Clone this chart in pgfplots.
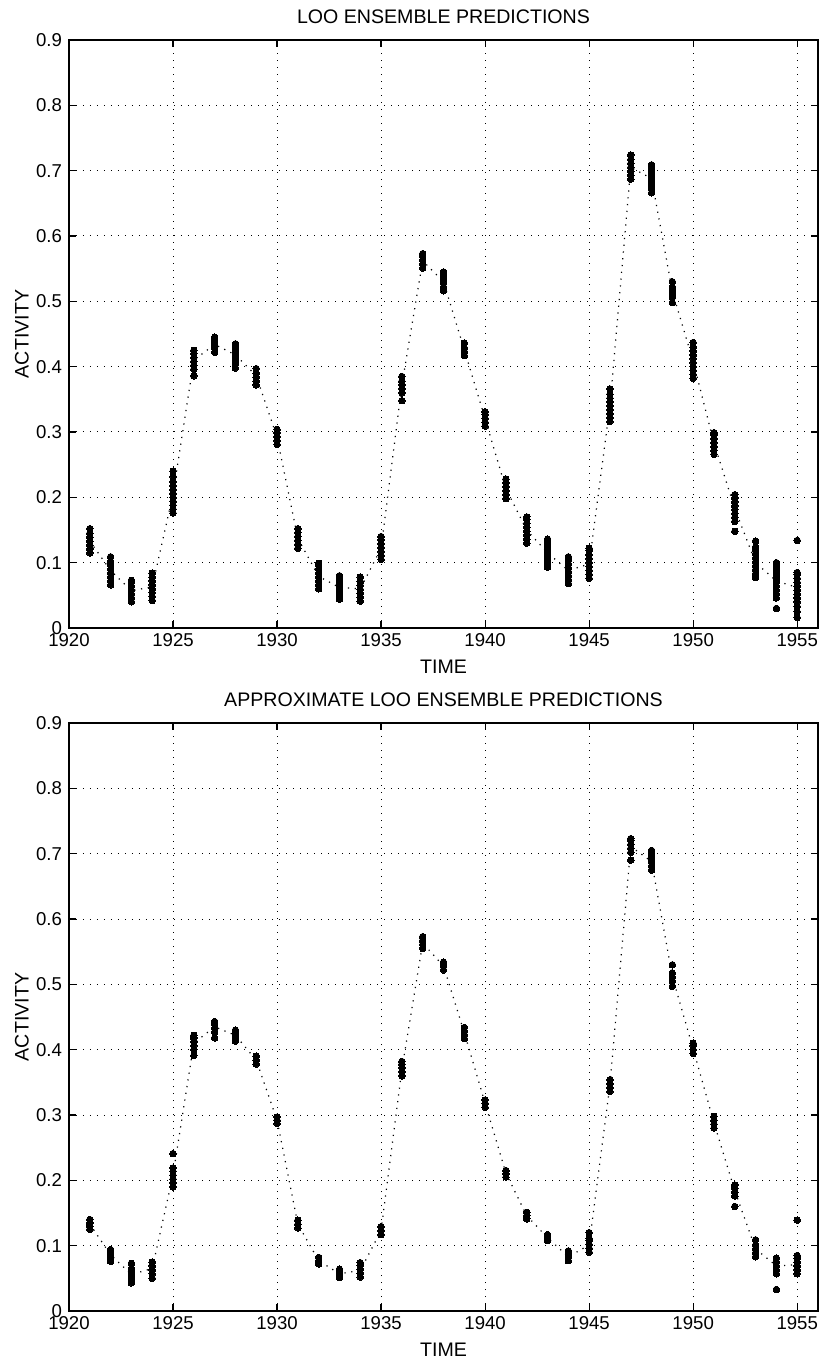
\documentclass[border=0pt]{standalone}
\usepackage{pgfplots}
\pgfplotsset{compat=1.18}
\usepackage{fontspec}
\setmainfont{Liberation Sans}
\pgfplotsset{myax/.style={
  width=374.5pt, height=294pt, scale only axis,
  xmin=1920, xmax=1956, ymin=0, ymax=0.9,
  xtick={1920,1925,1930,1935,1940,1945,1950,1955},
  xticklabels={1920,1925,1930,1935,1940,1945,1950,1955},
  ytick={0,0.1,0.2,0.3,0.4,0.5,0.6,0.7,0.8,0.9},
  yticklabels={0,0.1,0.2,0.3,0.4,0.5,0.6,0.7,0.8,0.9},
  grid=major,
  major grid style={black, line width=0.5pt, dash pattern=on 0.5pt off 3pt},
  tick align=inside, major tick length=3.5pt,
  every tick/.style={black, line width=0.6pt},
  axis line style={black, line width=0.8pt},
  ticklabel style={font=\fontsize{9.3}{10}\selectfont},
  xticklabel style={yshift=1pt},
  label style={font=\fontsize{9.8}{11}\selectfont},
  title style={font=\fontsize{9.8}{11}\selectfont, at={(axis description cs:0.5,1.0186)}, anchor=center},
  xlabel=TIME, ylabel=ACTIVITY,
  xlabel style={at={(axis description cs:0.5,-0.066)}, anchor=center},
  ylabel style={at={(axis description cs:-0.063,0.5)}, anchor=center},
  clip=false,
},
dots/.style={only marks, mark=*, mark size=1.65pt, mark options={draw=black, fill=black, line width=0pt}},
meanline/.style={black, line width=0.6pt, dash pattern=on 0.6pt off 2.8pt, mark=none},
}
\begin{document}
\begin{tikzpicture}
\useasboundingbox (-34.5pt,20pt) rectangle (376pt,-662pt);
% ---------------- top ----------------
\begin{axis}[myax, at={(0,0)}, anchor=north west, title={LOO ENSEMBLE PREDICTIONS}]
\addplot[meanline] coordinates {(1921,0.133)(1922,0.088)(1923,0.057)(1924,0.063)(1925,0.205)(1926,0.41)(1927,0.434)(1928,0.418)(1929,0.386)(1930,0.292)(1931,0.137)(1932,0.079)(1933,0.062)(1934,0.060)(1935,0.122)(1936,0.372)(1937,0.562)(1938,0.530)(1939,0.426)(1940,0.32)(1941,0.213)(1942,0.150)(1943,0.115)(1944,0.088)(1945,0.098)(1946,0.340)(1947,0.705)(1948,0.688)(1949,0.515)(1950,0.408)(1951,0.283)(1952,0.183)(1953,0.100)(1954,0.072)(1955,0.062)};
\addplot[dots] coordinates {
(1921,0.115)(1921,0.121)(1921,0.127)(1921,0.133)(1921,0.139)(1921,0.145)(1921,0.152)
(1922,0.066)(1922,0.072)(1922,0.078)(1922,0.084)(1922,0.090)(1922,0.096)(1922,0.102)(1922,0.109)
(1923,0.040)(1923,0.046)(1923,0.052)(1923,0.058)(1923,0.064)(1923,0.070)(1923,0.073)
(1924,0.042)(1924,0.048)(1924,0.054)(1924,0.060)(1924,0.066)(1924,0.072)(1924,0.078)(1924,0.084)
(1925,0.176)(1925,0.182)(1925,0.188)(1925,0.194)(1925,0.200)(1925,0.206)(1925,0.212)(1925,0.218)(1925,0.224)(1925,0.232)(1925,0.240)
(1926,0.386)(1926,0.396)(1926,0.402)(1926,0.408)(1926,0.414)(1926,0.420)(1926,0.425)
(1927,0.422)(1927,0.428)(1927,0.434)(1927,0.440)(1927,0.445)
(1928,0.398)(1928,0.405)(1928,0.411)(1928,0.417)(1928,0.423)(1928,0.429)(1928,0.435)
(1929,0.372)(1929,0.378)(1929,0.384)(1929,0.390)(1929,0.397)
(1930,0.281)(1930,0.287)(1930,0.293)(1930,0.299)(1930,0.304)
(1931,0.122)(1931,0.128)(1931,0.134)(1931,0.140)(1931,0.146)(1931,0.152)
(1932,0.060)(1932,0.066)(1932,0.072)(1932,0.078)(1932,0.084)(1932,0.090)(1932,0.096)(1932,0.099)
(1933,0.044)(1933,0.050)(1933,0.056)(1933,0.062)(1933,0.068)(1933,0.074)(1933,0.080)
(1934,0.041)(1934,0.047)(1934,0.053)(1934,0.059)(1934,0.065)(1934,0.071)(1934,0.078)
(1935,0.105)(1935,0.111)(1935,0.117)(1935,0.123)(1935,0.129)(1935,0.135)(1935,0.140)
(1936,0.348)(1936,0.360)(1936,0.366)(1936,0.372)(1936,0.378)(1936,0.385)
(1937,0.551)(1937,0.557)(1937,0.563)(1937,0.569)(1937,0.573)
(1938,0.516)(1938,0.522)(1938,0.528)(1938,0.534)(1938,0.540)(1938,0.545)
(1939,0.417)(1939,0.423)(1939,0.429)(1939,0.436)
(1940,0.309)(1940,0.315)(1940,0.321)(1940,0.327)(1940,0.331)
(1941,0.198)(1941,0.204)(1941,0.210)(1941,0.216)(1941,0.222)(1941,0.228)
(1942,0.130)(1942,0.136)(1942,0.142)(1942,0.148)(1942,0.154)(1942,0.160)(1942,0.166)(1942,0.170)
(1943,0.093)(1943,0.099)(1943,0.105)(1943,0.111)(1943,0.117)(1943,0.123)(1943,0.129)(1943,0.136)
(1944,0.068)(1944,0.074)(1944,0.080)(1944,0.086)(1944,0.092)(1944,0.098)(1944,0.104)(1944,0.109)
(1945,0.076)(1945,0.082)(1945,0.088)(1945,0.094)(1945,0.100)(1945,0.106)(1945,0.112)(1945,0.119)(1945,0.122)
(1946,0.316)(1946,0.322)(1946,0.328)(1946,0.334)(1946,0.340)(1946,0.346)(1946,0.352)(1946,0.358)(1946,0.366)
(1947,0.687)(1947,0.693)(1947,0.699)(1947,0.705)(1947,0.711)(1947,0.717)(1947,0.724)
(1948,0.666)(1948,0.673)(1948,0.679)(1948,0.685)(1948,0.691)(1948,0.697)(1948,0.703)(1948,0.709)
(1949,0.498)(1949,0.507)(1949,0.512)(1949,0.517)(1949,0.522)(1949,0.530)
(1950,0.382)(1950,0.388)(1950,0.394)(1950,0.400)(1950,0.406)(1950,0.412)(1950,0.418)(1950,0.424)(1950,0.430)(1950,0.437)
(1951,0.266)(1951,0.272)(1951,0.278)(1951,0.284)(1951,0.290)(1951,0.296)(1951,0.299)
(1952,0.148)(1952,0.163)(1952,0.169)(1952,0.175)(1952,0.181)(1952,0.187)(1952,0.193)(1952,0.199)(1952,0.204)
(1953,0.077)(1953,0.083)(1953,0.089)(1953,0.095)(1953,0.101)(1953,0.107)(1953,0.113)(1953,0.119)(1953,0.124)(1953,0.133)
(1954,0.030)(1954,0.046)(1954,0.052)(1954,0.058)(1954,0.064)(1954,0.070)(1954,0.076)(1954,0.082)(1954,0.088)(1954,0.094)(1954,0.100)
(1955,0.016)(1955,0.025)(1955,0.033)(1955,0.040)(1955,0.046)(1955,0.052)(1955,0.058)(1955,0.064)(1955,0.070)(1955,0.076)(1955,0.082)(1955,0.085)(1955,0.134)
};
\end{axis}
% ---------------- bottom ----------------
\begin{axis}[myax, at={(0,-341.5pt)}, anchor=north west, title={APPROXIMATE LOO ENSEMBLE PREDICTIONS}]
\addplot[meanline] coordinates {(1921,0.133)(1922,0.086)(1923,0.056)(1924,0.065)(1925,0.208)(1926,0.41)(1927,0.435)(1928,0.422)(1929,0.384)(1930,0.292)(1931,0.133)(1932,0.077)(1933,0.057)(1934,0.062)(1935,0.123)(1936,0.37)(1937,0.563)(1938,0.528)(1939,0.426)(1940,0.318)(1941,0.211)(1942,0.146)(1943,0.112)(1944,0.083)(1945,0.101)(1946,0.346)(1947,0.711)(1948,0.688)(1949,0.512)(1950,0.401)(1951,0.288)(1952,0.184)(1953,0.095)(1954,0.069)(1955,0.071)};
\addplot[dots] coordinates {
(1921,0.125)(1921,0.130)(1921,0.135)(1921,0.140)
(1922,0.076)(1922,0.082)(1922,0.088)(1922,0.094)
(1923,0.043)(1923,0.048)(1923,0.053)(1923,0.059)(1923,0.065)(1923,0.073)
(1924,0.050)(1924,0.057)(1924,0.063)(1924,0.069)(1924,0.075)
(1925,0.190)(1925,0.196)(1925,0.202)(1925,0.208)(1925,0.214)(1925,0.219)(1925,0.241)
(1926,0.391)(1926,0.400)(1926,0.406)(1926,0.412)(1926,0.418)(1926,0.422)
(1927,0.418)(1927,0.427)(1927,0.433)(1927,0.439)(1927,0.443)
(1928,0.413)(1928,0.419)(1928,0.425)(1928,0.430)
(1929,0.378)(1929,0.384)(1929,0.390)
(1930,0.287)(1930,0.292)(1930,0.297)
(1931,0.127)(1931,0.133)(1931,0.139)
(1932,0.072)(1932,0.077)(1932,0.082)
(1933,0.051)(1933,0.056)(1933,0.061)(1933,0.064)
(1934,0.052)(1934,0.058)(1934,0.064)(1934,0.070)(1934,0.074)
(1935,0.117)(1935,0.123)(1935,0.129)
(1936,0.360)(1936,0.366)(1936,0.372)(1936,0.378)(1936,0.382)
(1937,0.555)(1937,0.561)(1937,0.567)(1937,0.573)
(1938,0.522)(1938,0.528)(1938,0.534)
(1939,0.417)(1939,0.423)(1939,0.429)(1939,0.434)
(1940,0.312)(1940,0.318)(1940,0.323)
(1941,0.205)(1941,0.210)(1941,0.215)
(1942,0.141)(1942,0.146)(1942,0.151)
(1943,0.108)(1943,0.113)(1943,0.117)
(1944,0.077)(1944,0.082)(1944,0.087)(1944,0.092)
(1945,0.090)(1945,0.096)(1945,0.102)(1945,0.108)(1945,0.111)(1945,0.120)
(1946,0.336)(1946,0.342)(1946,0.348)(1946,0.354)
(1947,0.690)(1947,0.702)(1947,0.708)(1947,0.714)(1947,0.720)(1947,0.723)
(1948,0.675)(1948,0.681)(1948,0.687)(1948,0.693)(1948,0.699)(1948,0.705)
(1949,0.497)(1949,0.505)(1949,0.511)(1949,0.517)(1949,0.530)
(1950,0.394)(1950,0.400)(1950,0.406)(1950,0.410)
(1951,0.280)(1951,0.286)(1951,0.292)(1951,0.298)
(1952,0.160)(1952,0.176)(1952,0.182)(1952,0.188)(1952,0.193)
(1953,0.083)(1953,0.089)(1953,0.095)(1953,0.101)(1953,0.109)
(1954,0.033)(1954,0.057)(1954,0.063)(1954,0.069)(1954,0.075)(1954,0.081)
(1955,0.057)(1955,0.063)(1955,0.069)(1955,0.075)(1955,0.081)(1955,0.085)(1955,0.139)
};
\end{axis}
\end{tikzpicture}
\end{document}
